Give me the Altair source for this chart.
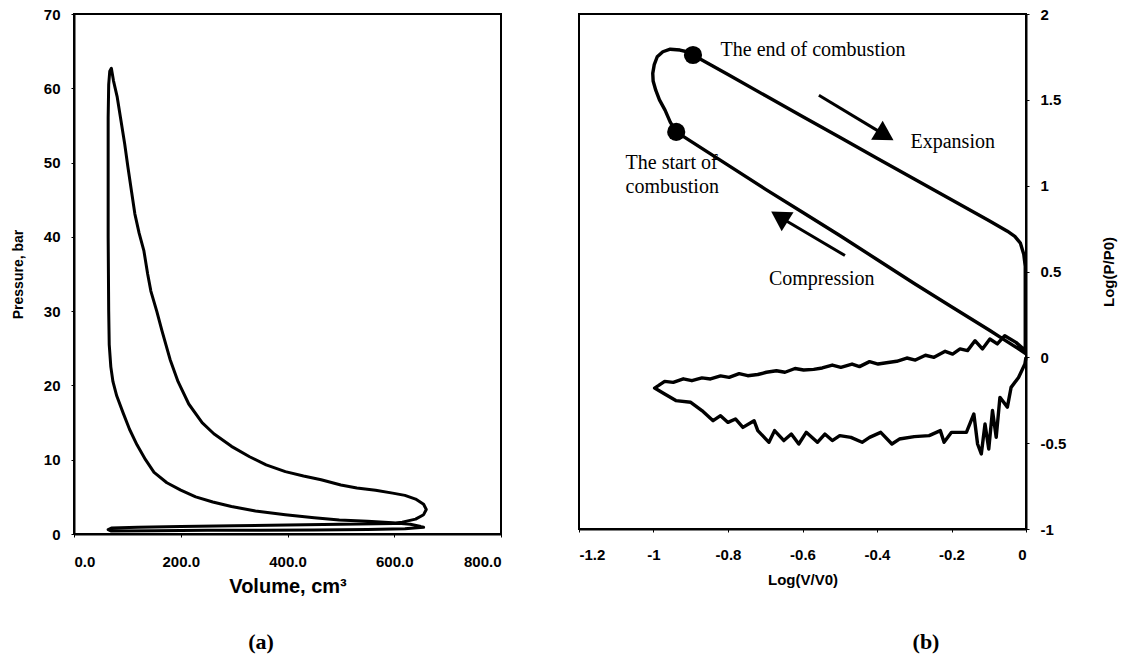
import altair as alt
import pandas as pd

# ---------------- Panel (a): P-V diagram ----------------
v_comp = [650, 630, 597, 550, 497, 450, 396, 340, 295, 260, 228, 200, 174, 150, 134, 118, 104, 92, 80, 73, 69, 66, 65, 64, 64, 64, 65, 67, 70]
p_comp = [1.0, 1.3, 1.5, 1.7, 1.9, 2.2, 2.6, 3.1, 3.7, 4.3, 5.0, 5.9, 6.9, 8.3, 10.0, 12.0, 14.1, 16.3, 18.6, 20.5, 22.5, 25.5, 30.0, 40.0, 50.0, 56.0, 60.5, 62.3, 62.7]
v_exp = [74, 81, 87, 95, 101, 108, 114, 122, 131, 138, 144, 155, 165, 180, 195, 215, 240, 262, 295, 329, 360, 396, 430, 463, 500, 530, 565, 597, 620, 640, 655, 660, 655, 640, 615]
p_exp = [61.0, 58.8, 56.1, 52.5, 49.4, 46.0, 43.1, 40.5, 38.1, 35.0, 32.7, 30.0, 27.3, 23.5, 20.5, 17.5, 15.0, 13.5, 11.8, 10.4, 9.3, 8.4, 7.8, 7.3, 6.6, 6.2, 5.9, 5.5, 5.2, 4.7, 4.0, 3.3, 2.6, 2.0, 1.6]
v_exh = [600, 500, 400, 300, 200, 120, 70, 64]
p_exh = [1.4, 1.3, 1.2, 1.1, 1.0, 0.9, 0.8, 0.6]
v_int = [70, 150, 250, 350, 450, 550, 620, 655, 650]
p_int = [0.4, 0.45, 0.5, 0.5, 0.55, 0.6, 0.7, 0.9, 1.0]

a_x_ticks = [0, 200, 400, 600, 800]
a_y_ticks = [0, 10, 20, 30, 40, 50, 60, 70]

# ---------------- Panel (b): log P - log V ----------------
lx_comp = [0, -0.02, -0.057, -0.097, -0.2, -0.3, -0.4, -0.5, -0.6, -0.7, -0.8, -0.939]
ly_comp = [0.02, 0.05, 0.10, 0.156, 0.295, 0.43, 0.57, 0.71, 0.845, 0.98, 1.12, 1.313]
lx_comb = [-0.955, -0.969, -0.984, -0.994, -1.001, -1.002, -0.998, -0.990, -0.975, -0.955, -0.929, -0.91, -0.894]
ly_comb = [1.37, 1.44, 1.50, 1.556, 1.61, 1.654, 1.705, 1.751, 1.78, 1.795, 1.79, 1.78, 1.761]
lx_exp = [-0.8, -0.7, -0.6, -0.5, -0.4, -0.3, -0.2, -0.1, -0.05, -0.03, -0.015, -0.006, -0.002, -0.002, -0.002, -0.002, -0.002]
ly_exp = [1.647, 1.525, 1.403, 1.282, 1.160, 1.039, 0.918, 0.797, 0.735, 0.705, 0.665, 0.60, 0.53, 0.43, 0.3, 0.15, 0.04]
lx_exh = [-0.027, -0.057, -0.077, -0.097, -0.117, -0.137, -0.157, -0.177, -0.197, -0.217, -0.247, -0.27, -0.297, -0.32, -0.347, -0.37,
          -0.397, -0.42, -0.447, -0.467, -0.497, -0.52, -0.547, -0.57, -0.597, -0.62, -0.647, -0.67, -0.697, -0.72, -0.747, -0.77,
          -0.797, -0.82, -0.847, -0.87, -0.897, -0.92, -0.947, -0.97, -0.987, -0.997]
ly_exh = [0.087, 0.126, 0.078, 0.107, 0.049, 0.097, 0.039, 0.049, 0.019, 0.035, 0.0, 0.012, -0.016, -0.004, -0.023, -0.03,
          -0.039, -0.025, -0.054, -0.039, -0.058, -0.045, -0.062, -0.07, -0.074, -0.065, -0.087, -0.078, -0.087, -0.1, -0.107, -0.095,
          -0.117, -0.108, -0.126, -0.12, -0.136, -0.125, -0.146, -0.14, -0.165, -0.179]
lx_int = [-0.97, -0.94, -0.90, -0.87, -0.84, -0.82, -0.80, -0.78, -0.76, -0.73, -0.72, -0.69, -0.675, -0.65, -0.63, -0.61, -0.59,
          -0.56, -0.54, -0.52, -0.50, -0.47, -0.44, -0.42, -0.39, -0.36, -0.34, -0.30, -0.26, -0.23, -0.22, -0.20, -0.16, -0.14,
          -0.13, -0.12, -0.11, -0.10, -0.09, -0.08, -0.07, -0.05, -0.04, -0.02, -0.003, 0]
ly_int = [-0.214, -0.252, -0.262, -0.31, -0.369, -0.34, -0.379, -0.359, -0.408, -0.369, -0.427, -0.495, -0.427, -0.485, -0.447,
          -0.505, -0.437, -0.495, -0.447, -0.485, -0.456, -0.466, -0.495, -0.466, -0.437, -0.505, -0.476, -0.462, -0.456, -0.427,
          -0.495, -0.437, -0.437, -0.33, -0.505, -0.563, -0.388, -0.534, -0.31, -0.466, -0.233, -0.29, -0.175, -0.117, -0.039, 0.0]

b_x_ticks = [-1.2, -1, -0.8, -0.6, -0.4, -0.2, 0]
b_y_ticks = [-1, -0.5, 0, 0.5, 1, 1.5, 2]

dot_x = [-0.894, -0.939]
dot_y = [1.761, 1.313]

note_text = ["The end of combustion", "Expansion", "The start of", "combustion", "Compression"]
note_x = [-0.82, -0.31, -1.075, -1.075, -0.69]
note_y = [1.79, 1.255, 1.13, 0.99, 0.457]

arrow_x = [-0.556, -0.486]
arrow_y = [1.527, 0.593]
arrow_x2 = [-0.385, -0.652]
arrow_y2 = [1.303, 0.806]
head_x = [-0.378, -0.662]
head_y = [1.294, 0.82]
head_angle = [121, 302]

captions = ["(a)", "(b)"]

# ---------------- build tables ----------------
va = v_comp + v_exp + v_exh + v_int
pa = p_comp + p_exp + p_exh + p_int
df_a = pd.DataFrame({"V": va, "P": pa, "i": list(range(len(va)))})

xb = lx_comp + lx_comb + lx_exp + lx_exh + lx_int
yb = ly_comp + ly_comb + ly_exp + ly_exh + ly_int
df_b = pd.DataFrame({"X": xb, "Y": yb, "i": list(range(len(xb)))})
df_dots = pd.DataFrame({"X": dot_x, "Y": dot_y})
df_notes = pd.DataFrame({"X": note_x, "Y": note_y, "t": note_text})
df_arrows = pd.DataFrame({"X": arrow_x, "Y": arrow_y, "X2": arrow_x2, "Y2": arrow_y2})
df_heads = pd.DataFrame({"X": head_x, "Y": head_y, "ang": head_angle})

SANS = "Liberation Sans"
SERIF = "Liberation Serif"

# ---------------- panel (a) ----------------
WA, HA = 427, 520
xa = alt.X("V:Q", scale=alt.Scale(domain=[0, 800], nice=False),
           axis=alt.Axis(values=a_x_ticks, format=".1f", title="Volume, cm³",
                         titleFontSize=20, titleX=WA / 2, titleY=52, titleBaseline="middle",
                         labelPadding=17))
ya = alt.Y("P:Q", scale=alt.Scale(domain=[0, 70], nice=False),
           axis=alt.Axis(values=a_y_ticks, title="Pressure, bar", titleFontSize=14,
                         titleX=-55.5, titleY=HA / 2, titleAngle=270, titleBaseline="middle",
                         titleAlign="center", labelPadding=11))
line_a = alt.Chart(df_a).mark_line(color="black", strokeWidth=3, strokeJoin="round").encode(
    x=xa, y=ya, order="i:Q")
cap_a = alt.Chart(pd.DataFrame({"t": [captions[0]]})).mark_text(
    font=SERIF, fontWeight="bold", fontSize=22, align="center", baseline="middle").encode(
    text="t:N", x=alt.value(187), y=alt.value(628))
panel_a = alt.layer(line_a, cap_a).properties(width=WA, height=HA)

# ---------------- panel (b) ----------------
WB, HB = 447, 515
lab = "'' + datum.value"
xsc = alt.Scale(domain=[-1.2, 0], nice=False)
ysc = alt.Scale(domain=[-1, 2], nice=False)
xb_enc = alt.X("X:Q", scale=xsc, axis=alt.Axis(values=b_x_ticks, labelExpr=lab, title="Log(V/V0)",
                                              titleFontSize=15, titleX=WB / 2, titleY=50,
                                              titleBaseline="middle", labelPadding=15))
yb_enc = alt.Y("Y:Q", scale=ysc, axis=alt.Axis(values=b_y_ticks, labelExpr=lab, orient="right",
                                              title="Log(P/P0)", titleAngle=270, titleFontSize=15,
                                              titleX=82, titleY=HB / 2, titleBaseline="middle",
                                              titleAlign="center", labelPadding=11))
line_b = alt.Chart(df_b).mark_line(color="black", strokeWidth=3.4, strokeJoin="round").encode(
    x=xb_enc, y=yb_enc, order="i:Q")
dots = alt.Chart(df_dots).mark_point(filled=True, color="black", size=330, opacity=1).encode(
    x="X:Q", y="Y:Q")
notes = alt.Chart(df_notes).mark_text(font=SERIF, fontSize=20, align="left", baseline="middle",
                                      color="black").encode(x="X:Q", y="Y:Q", text="t:N")
arrows = alt.Chart(df_arrows).mark_rule(color="black", strokeWidth=3).encode(
    x="X:Q", y="Y:Q", x2="X2:Q", y2="Y2:Q")
heads = alt.Chart(df_heads).mark_point(shape="triangle-up", filled=True, color="black", size=500,
                                       opacity=1).encode(x="X:Q", y="Y:Q", angle=alt.Angle("ang:Q", scale=None))
cap_b = alt.Chart(pd.DataFrame({"t": [captions[1]]})).mark_text(
    font=SERIF, fontWeight="bold", fontSize=22, align="center", baseline="middle").encode(
    text="t:N", x=alt.value(347), y=alt.value(113 + HB - 0))
panel_b = alt.layer(line_b, arrows, heads, dots, notes, cap_b).properties(width=WB, height=HB)

chart = alt.hconcat(panel_a, panel_b, spacing=78, bounds="flush").properties(
    padding={"left": 10, "top": 6, "right": 5, "bottom": 2}
).configure_view(stroke="black", strokeWidth=2).configure_axis(
    labelFont=SANS, titleFont=SANS, labelFontWeight="bold", titleFontWeight="bold",
    labelFontSize=15, labelColor="black", titleColor="black", grid=False,
    domainColor="black", domainWidth=2, tickColor="black", tickSize=3, tickWidth=1
)

chart.save("out.html", embed_options={"renderer": "svg", "actions": False})
